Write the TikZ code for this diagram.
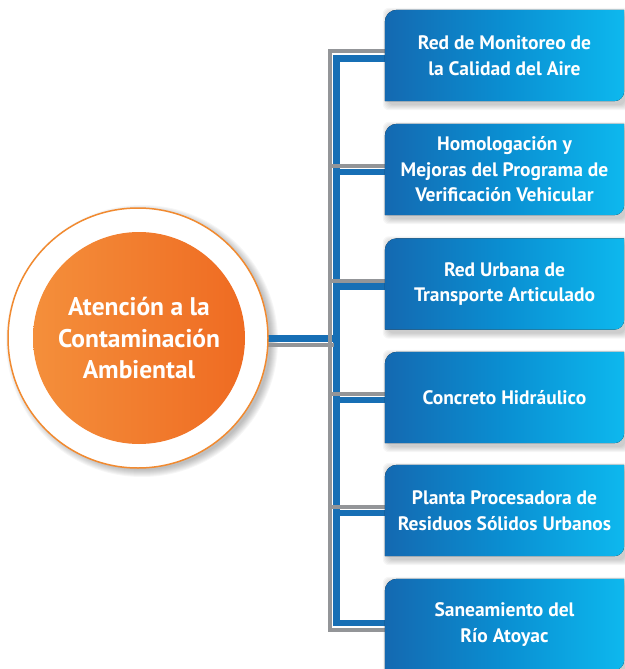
\documentclass[tikz,border=0pt]{standalone}
\usepackage{fontspec}
\setmainfont{PT Sans}
\definecolor{lineGray}{HTML}{939598}
\definecolor{lineBlue}{HTML}{176FB5}
\definecolor{boxDark}{HTML}{1469B1}
\definecolor{boxMid}{HTML}{0A8FD2}
\definecolor{boxLight}{HTML}{0DB8EE}
\definecolor{orBorder}{HTML}{F18A30}
\definecolor{orLeft}{HTML}{F48F3B}
\definecolor{orRight}{HTML}{EF6B22}
\pgfdeclarelayer{bg}
\pgfsetlayers{bg,main}
\begin{document}
\begin{tikzpicture}[x=1pt,y=-1pt,
  boxtext/.style={minimum width=239pt, minimum height=91pt, inner sep=0pt, text=white, align=center,
    font=\bfseries\fontsize{19.5}{25.5}\selectfont},
  boxfill/.style={left color=boxDark, right color=boxLight, middle color=boxMid},
  grayline/.style={draw=lineGray, line width=4pt},
  blueline/.style={draw=lineBlue, line width=6.5pt},
  shadowfill/.style={fill=black, opacity=0.035}]
\useasboundingbox (0,0) rectangle (624,669);

% circle
\node[circle, minimum size=260pt, inner sep=0pt, fill=white, draw=orBorder, line width=1.5pt] (outer) at (138,338) {};
\node[circle, minimum size=212pt, inner sep=0pt, left color=orLeft, right color=orRight, text=white, align=center,
  font=\bfseries\fontsize{25.5}{31.5}\selectfont] (inner) at (139,338) {Atención a la\\Contaminación\\Ambiental};

% boxes
\node[boxtext] (b1) at (504.5,55.5) {Red de Monitoreo de\\la Calidad del Aire};
\node[boxtext] (b2) at (504.5,169.5) {Homologación y\\Mejoras del Programa de\\Verificación Vehicular};
\node[boxtext] (b3) at (504.5,284) {Red Urbana de\\Transporte Articulado};
\node[boxtext] (b4) at (504.5,397.5) {Concreto Hidráulico};
\node[boxtext] (b5) at (504.5,510.5) {Planta Procesadora de\\Residuos Sólidos Urbanos};
\node[boxtext] (b6) at (504.5,624.5) {Saneamiento del\\Río Atoyac};

\coordinate (gtop) at (330,51.5);
\coordinate (gbot) at (330,630);
\coordinate (btop) at (336.5,58.5);
\coordinate (bbot) at (336.5,623);
\coordinate (cblue) at (336.5,338.5);
\coordinate (cgray) at (334,344.5);

\begin{pgfonlayer}{bg}
  % shadows
  \foreach \k in {1,...,8}{
    \fill[shadowfill] ([xshift=4pt,yshift=-3pt]outer.center) circle[radius=128pt+\k pt];
  }
  \foreach \b in {b1,b2,b3,b4,b5,b6}{
    \foreach \k in {1,...,6}{
      \fill[shadowfill, rounded corners=6pt] ([xshift=-\k pt+4pt, yshift=-3pt-\k pt]\b.south west) rectangle ([xshift=\k pt, yshift=-4pt+\k pt]\b.north east);
    }
  }
  % connectors
  \draw[blueline] ([yshift=-0.5pt]outer.center) -- (cblue);
  \draw[blueline] ([yshift=-3pt]b1.west) -- (btop) -- (bbot) -- ([yshift=1.5pt]b6.west);
  \foreach \b in {b2,b3,b4,b5}{
    \draw[blueline] ([yshift=-2.5pt]\b.west) -- ([yshift=-2.5pt]\b.west -| btop);
  }
  \draw[grayline] ([yshift=-6.5pt]outer.center) -- (cgray);
  \draw[grayline] ([yshift=4pt]b1.west) -- (gtop) -- (gbot) -- ([yshift=-5.5pt]b6.west);
  \foreach \b in {b2,b3,b4,b5}{
    \draw[grayline] ([yshift=3.5pt]\b.west) -- ([yshift=3.5pt]\b.west -| gtop);
  }
  % box fills
  \foreach \b in {b1,b2,b3,b4,b5,b6}{
    \fill[boxfill] (\b.south west) [rounded corners=12pt] -- (\b.north west) -- (\b.north) [sharp corners] -- (\b.north east) -- ([yshift=20pt]\b.south east) [rounded corners=10pt] -- (\b.south east) -- (\b.south) [sharp corners] -- cycle;
  }
\end{pgfonlayer}
\end{tikzpicture}
\end{document}
